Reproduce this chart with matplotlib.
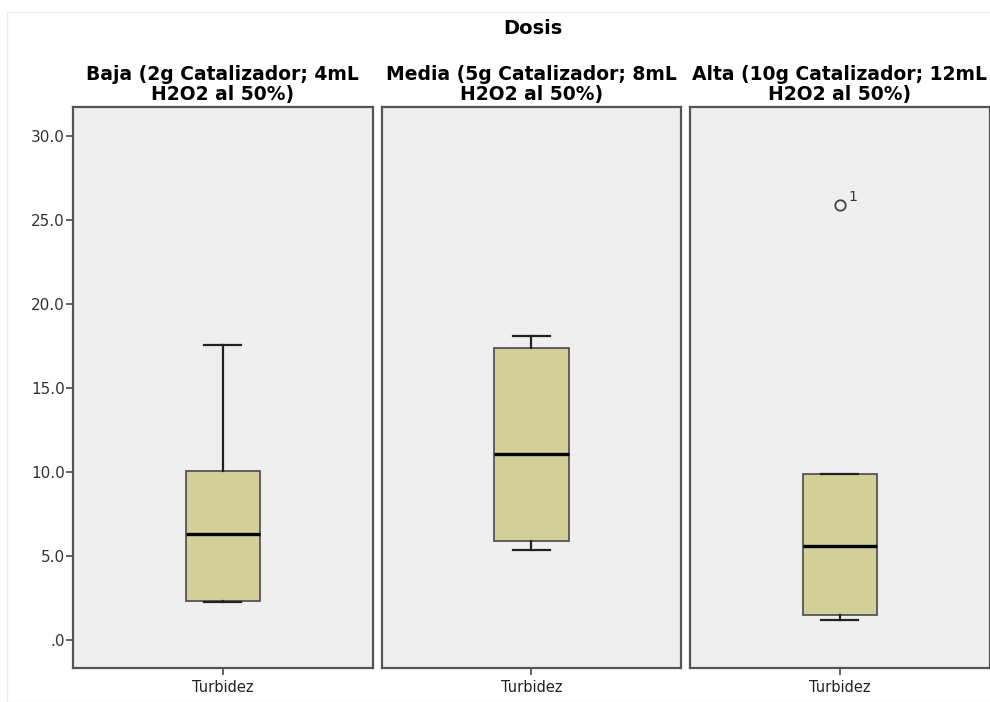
import matplotlib.pyplot as plt
from matplotlib.patches import Rectangle

# Turbidez por dosis de catalizador (resumen de cajas)
dosis = ["Baja (2g Catalizador; 4mL\nH2O2 al 50%)",
         "Media (5g Catalizador; 8mL\nH2O2 al 50%)",
         "Alta (10g Catalizador; 12mL\nH2O2 al 50%)"]
q1 = [2.32, 5.93, 1.53]
mediana = [6.33, 11.10, 5.64]
q3 = [10.10, 17.40, 9.90]
whis_lo = [2.30, 5.40, 1.19]
whis_hi = [17.60, 18.10, 9.90]
atipicos = [[], [], [25.9]]
etiq_atipicos = [[], [], ["1"]]

y_ticks = [0, 5, 10, 15, 20, 25, 30]
y_ticklabels = [".0", "5.0", "10.0", "15.0", "20.0", "25.0", "30.0"]

W, H = 990, 702
fig = plt.figure(figsize=(W / 100, H / 100), dpi=100)
fig.patch.set_facecolor("white")

# marco tenue alrededor de la figura
fig.patches.append(Rectangle((7 / W, 0.0), 1.2, (H - 12) / H, transform=fig.transFigure,
                             fill=False, edgecolor="#ececec", lw=1))

panel_left = [73, 381.7, 690]
panel_w = 299.5
bottom = (H - 668) / H
height = (668 - 107) / H

fill_box = "#d3cf98"
edge = "#555555"

for i in range(3):
    ax = fig.add_axes([panel_left[i] / W, bottom, panel_w / W, height])
    ax.set_facecolor("#efefef")
    stats = [dict(med=mediana[i], q1=q1[i], q3=q3[i], whislo=whis_lo[i],
                  whishi=whis_hi[i], fliers=atipicos[i], label="Turbidez")]
    ax.bxp(stats, positions=[1], widths=0.248, capwidths=0.124, patch_artist=True,
           boxprops=dict(facecolor=fill_box, edgecolor=edge, lw=1.3),
           medianprops=dict(color="black", lw=2.4),
           whiskerprops=dict(color="#222222", lw=1.6),
           capprops=dict(color="#222222", lw=1.6),
           flierprops=dict(marker="o", markerfacecolor="none", markeredgecolor="#444444",
                           markersize=7.5, markeredgewidth=1.3))
    for v, t in zip(atipicos[i], etiq_atipicos[i]):
        ax.annotate(t, (1, v), xytext=(6, 3), textcoords="offset points",
                    fontsize=10, color="#333333")
    ax.set_xlim(0.5, 1.5)
    ax.set_ylim(-1.64, 31.75)
    for s in ax.spines.values():
        s.set_color(edge)
        s.set_linewidth(1.6)
    ax.tick_params(axis="x", length=5, width=1.3, color=edge, labelsize=10.5,
                   labelcolor="#222222", pad=4)
    if i == 0:
        ax.set_yticks(y_ticks)
        ax.set_yticklabels(y_ticklabels)
        ax.tick_params(axis="y", length=5, width=1.3, color=edge, labelsize=11,
                       labelcolor="#333333", pad=1)
    else:
        ax.set_yticks([])
    ax.set_title(dosis[i], fontsize=13.5, fontweight="bold", linespacing=1.05, pad=5)

fig.text(533 / W, 1 - 28 / H, "Dosis", ha="center", va="center",
         fontsize=14, fontweight="bold")

fig.savefig("out.png", dpi=100)
